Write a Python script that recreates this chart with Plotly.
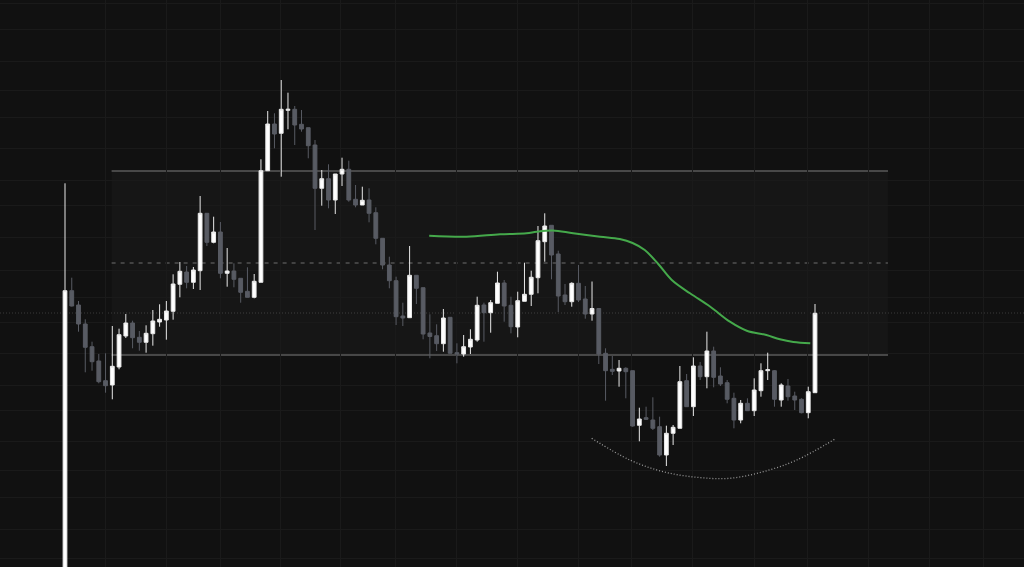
import plotly.graph_objects as go

# ---- data (price units) ----
idx = list(range(112))
opens = [41.5, 70.93, 69.5, 67.6, 65.33, 63.9, 61.93, 61.5, 63.3, 66.4,
67.7, 66.27, 65.77, 66.63, 67.8, 68.0, 68.87, 71.57, 72.8, 71.77,
72.93, 78.67, 75.77, 76.8, 72.67, 72.9, 72.17, 70.87, 70.27, 71.77,
82.93, 87.6, 86.67, 88.97, 89.07, 87.57, 87.23, 85.5, 81.17, 82.13,
80.0, 82.6, 83.07, 80.07, 79.5, 80.0, 78.73, 76.17, 73.5, 71.93,
68.4, 68.23, 72.47, 71.23, 66.7, 66.43, 65.63, 68.27, 64.73, 64.6,
65.3, 66.0, 69.5, 68.73, 69.67, 71.7, 69.47, 67.3, 69.87, 70.57,
72.23, 75.83, 77.47, 74.6, 70.5, 69.83, 71.67, 70.1, 68.6, 69.15,
64.67, 63.07, 62.9, 63.17, 62.93, 57.47, 58.23, 58.0, 57.33, 54.5,
56.67, 57.17, 61.93, 59.33, 63.4, 62.33, 64.9, 62.4, 61.73, 60.17,
58.0, 59.67, 58.93, 60.93, 62.93, 62.93, 60.0, 61.4, 60.4, 60.07,
58.73, 60.73]
highs = [81.67, 72.23, 69.9, 68.07, 65.83, 64.6, 64.67, 67.4, 67.13, 68.6,
67.93, 66.9, 67.47, 69.0, 69.57, 69.9, 72.57, 73.8, 73.4, 73.3,
80.4, 78.7, 78.33, 77.8, 75.2, 73.67, 72.17, 73.27, 72.6, 84.07,
88.9, 88.67, 92.0, 90.73, 89.4, 89.0, 87.23, 86.0, 83.0, 83.57,
82.6, 84.23, 83.93, 81.5, 81.33, 81.17, 79.27, 76.17, 74.33, 72.33,
69.73, 75.4, 72.47, 71.23, 68.57, 67.57, 69.1, 68.27, 65.67, 66.5,
67.07, 70.33, 69.73, 70.0, 72.83, 72.0, 70.33, 70.83, 73.73, 72.93,
77.4, 78.67, 77.47, 74.93, 71.6, 71.77, 73.5, 71.4, 71.85, 69.15,
65.17, 64.4, 64.0, 63.27, 62.93, 59.23, 59.33, 60.27, 58.33, 57.43,
57.5, 63.4, 62.6, 64.27, 63.8, 66.83, 65.33, 63.27, 62.0, 60.73,
60.0, 60.17, 62.17, 63.67, 64.73, 63.0, 61.67, 62.1, 60.83, 60.17,
61.33, 69.6]
lows = [40.0, 69.35, 66.83, 62.77, 62.93, 61.67, 60.73, 60.07, 63.07, 66.2,
65.17, 64.93, 64.73, 65.43, 67.33, 66.03, 68.03, 70.27, 71.17, 71.1,
71.0, 75.4, 75.67, 72.17, 71.33, 71.27, 69.73, 70.27, 70.17, 71.77,
82.93, 85.17, 82.33, 87.07, 85.5, 86.83, 84.17, 77.0, 79.43, 79.17,
78.6, 81.4, 79.83, 79.27, 79.5, 77.77, 75.57, 73.07, 71.17, 67.5,
67.4, 68.23, 69.6, 66.07, 64.17, 64.9, 64.83, 64.67, 63.67, 64.33,
64.6, 65.83, 65.83, 66.73, 69.67, 67.83, 66.67, 66.27, 69.87, 69.4,
70.67, 73.83, 72.07, 68.8, 69.5, 69.33, 69.8, 68.13, 67.93, 63.6,
59.93, 62.5, 61.33, 60.17, 57.33, 55.87, 58.0, 57.0, 54.33, 53.4,
55.5, 57.17, 59.33, 58.4, 62.0, 61.17, 61.27, 61.4, 59.67, 57.17,
57.67, 58.93, 58.4, 60.33, 62.0, 59.33, 59.33, 59.93, 59.0, 58.67,
58.17, 60.73]
closes = [70.93, 69.4, 67.6, 65.27, 63.83, 61.83, 61.43, 63.37, 66.53, 67.7,
66.23, 65.77, 66.67, 67.9, 68.07, 68.9, 71.6, 72.87, 71.77, 73.0,
78.67, 75.77, 76.8, 72.67, 72.9, 72.07, 70.77, 70.27, 71.87, 82.93,
87.6, 86.6, 89.07, 89.07, 87.5, 87.1, 85.43, 81.17, 82.13, 80.0,
82.6, 83.07, 80.0, 79.5, 79.97, 78.67, 76.17, 73.5, 71.93, 68.33,
68.2, 72.47, 71.17, 66.6, 66.35, 65.63, 68.2, 64.67, 64.6, 65.33,
66.07, 69.47, 68.73, 69.73, 71.7, 69.4, 67.33, 69.93, 70.57, 72.27,
75.93, 77.4, 74.5, 70.4, 69.83, 71.67, 70.0, 68.6, 69.15, 64.6,
62.93, 62.87, 63.17, 62.83, 57.4, 58.1, 58.07, 57.17, 54.5, 56.67,
57.27, 61.83, 59.33, 63.4, 62.33, 64.9, 62.27, 61.6, 60.07, 58.0,
59.67, 58.93, 61.0, 62.93, 63.03, 60.07, 61.5, 60.33, 60.0, 58.73,
60.83, 68.67]

# green trend line (read points)
ma_x = [53.9, 59.4, 64.4, 68.3, 69.8, 72.2, 75.2, 79.2, 82.1, 84.0, 85.8,
        87.8, 89.8, 92.5, 95.5, 98.4, 100.9, 103.8, 105.8, 107.8, 110.3]
ma_y = [76.43, 76.33, 76.57, 76.67, 76.83, 76.95, 76.67, 76.33, 76.1, 75.7,
        75.0, 73.6, 72.0, 70.67, 69.33, 67.83, 66.93, 66.5, 66.07, 65.8, 65.67]

# dotted rounding-bottom arc (read points)
arc_x = [77.95, 83.6, 88.55, 93.5, 98.4, 103.34, 108.3, 113.96]
arc_y = [56.17, 54.0, 52.83, 52.27, 52.17, 52.83, 54.0, 56.1]

# range zone
zone_x0, zone_x1 = 6.9, 121.8
zone_top, zone_mid, zone_bottom = 82.9, 73.7, 64.5
level_dotted = 68.7

# grid positions
grid_x = [5.96, 14.95, 22.94, 31.92, 40.8, 48.94, 57.87, 66.9, 76.03, 83.9,
          92.94, 101.97, 109.86, 118.9, 127.9, 135.9]
grid_y = [99.67, 97.07, 93.83, 90.93, 88.27, 85.17, 82.0, 79.5, 76.3, 73.0,
          70.3, 67.8, 64.7, 61.5, 59.0, 55.83, 52.93, 50.27, 47.07, 44.17]

x_range = [-9.62, 141.93]
y_range = [43.3, 100.0]

BG = "#111111"
GRID = "#1a1a1a"
fig = go.Figure()

fig.add_trace(go.Candlestick(
    x=idx, open=opens, high=highs, low=lows, close=closes,
    increasing=dict(fillcolor="#ffffff", line=dict(color="#e8e8e8", width=1)),
    decreasing=dict(fillcolor="#585b63", line=dict(color="#585b63", width=1)),
    whiskerwidth=0, hoverinfo="skip", showlegend=False,
))

fig.add_trace(go.Scatter(
    x=ma_x, y=ma_y, mode="lines",
    line=dict(color="#45a94b", width=2, shape="spline", smoothing=1.0),
    hoverinfo="skip", showlegend=False,
))

fig.add_trace(go.Scatter(
    x=arc_x, y=arc_y, mode="lines",
    line=dict(color="#9a9a9a", width=1.3, shape="spline", dash="1px,2px"),
    hoverinfo="skip", showlegend=False,
))

shapes = [
    dict(type="rect", xref="x", yref="y", x0=zone_x0, x1=zone_x1,
         y0=zone_bottom, y1=zone_top, fillcolor="rgba(255,255,255,0.022)",
         line=dict(width=0), layer="below"),
    dict(type="line", xref="x", yref="y", x0=zone_x0, x1=zone_x1,
         y0=zone_top, y1=zone_top, line=dict(color="#5a5a5a", width=1.3), layer="below"),
    dict(type="line", xref="x", yref="y", x0=zone_x0, x1=zone_x1,
         y0=zone_bottom, y1=zone_bottom, line=dict(color="#5a5a5a", width=1.3), layer="below"),
    dict(type="line", xref="x", yref="y", x0=zone_x0, x1=zone_x1,
         y0=zone_mid, y1=zone_mid, line=dict(color="#6e6e6e", width=1, dash="4px,5px"), layer="below"),
    dict(type="line", xref="paper", yref="y", x0=0, x1=1,
         y0=level_dotted, y1=level_dotted, line=dict(color="#3a3a3a", width=1, dash="1px,2px"), layer="below"),
]

fig.update_layout(
    width=1024, height=567,
    margin=dict(l=0, r=0, t=0, b=0),
    paper_bgcolor=BG, plot_bgcolor=BG,
    showlegend=False,
    boxgap=0.2, boxgroupgap=0.3,
    shapes=shapes,
    xaxis=dict(range=x_range, rangeslider=dict(visible=False), showticklabels=False,
               tickvals=grid_x, showgrid=True, gridcolor=GRID, gridwidth=1,
               zeroline=False, showline=False, ticks=""),
    yaxis=dict(range=y_range, showticklabels=False, tickvals=grid_y,
               showgrid=True, gridcolor=GRID, gridwidth=1,
               zeroline=False, showline=False, ticks=""),
)

fig.write_html(
    "out.html",
    config={"displayModeBar": False},
    post_script="document.body.style.margin='0';document.body.style.padding='0';"
                "document.body.style.overflow='hidden';document.body.style.background='#111111';",
)
